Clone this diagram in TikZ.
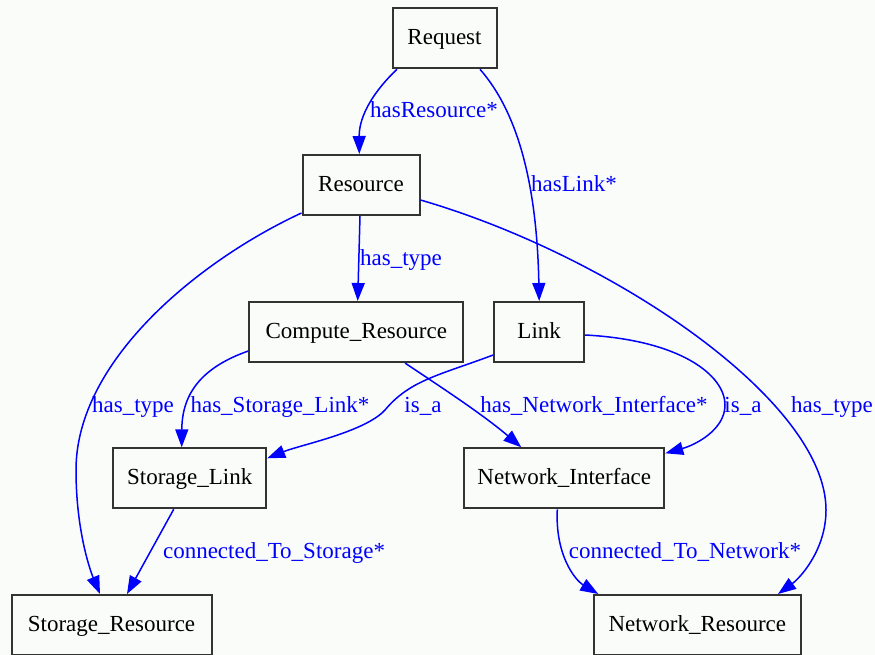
\documentclass[tikz,border=0pt]{standalone}
\usepackage{fontspec}
\setmainfont{Liberation Serif}
\usetikzlibrary{arrows.meta,calc}
\definecolor{bgc}{RGB}{250,252,250}
\definecolor{edgeblue}{RGB}{0,0,255}
\begin{document}
\begin{tikzpicture}[x=1pt,y=-1pt,
  box/.style={draw=black!80,line width=2pt,minimum height=60pt,inner sep=0pt,
    text height=18pt,text depth=5pt,font=\fontsize{23}{27}\selectfont},
  edge/.style={draw=edgeblue,line width=1.5pt,-{Triangle[length=18pt,width=13pt]}},
  lbl/.style={text=edgeblue,font=\fontsize{23}{27}\selectfont,inner sep=0pt,anchor=base}]
\fill[bgc] (0,0) rectangle (875,655);
\useasboundingbox (0,0) rectangle (875,655);

% nodes
\node[box,minimum width=104pt] (req)  at (444.5,38.3) {Request};
\node[box,minimum width=117pt] (res)  at (361,185)    {Resource};
\node[box,minimum width=214pt] (comp) at (356.3,332)  {Compute\_Resource};
\node[box,minimum width=90pt]  (link) at (539.2,332)  {Link};
\node[box,minimum width=153pt] (sl)   at (189.7,478.3){Storage\_Link};
\node[box,minimum width=200pt] (ni)   at (564.3,478.3){Network\_Interface};
\node[box,minimum width=200pt] (sr)   at (111.5,625)  {Storage\_Resource};
\node[box,minimum width=207pt] (nr)   at (697.3,625)  {Network\_Resource};

% edges
\draw[edge] ($(req.south)+(-47.5,0)$) .. controls (375,90) and (359,115) .. ($(res.north)+(-1.7,0)$);
\draw[edge] ($(req.south)+(35.5,0)$) .. controls (520,115) and (537,190) .. (link.north);
\draw[edge] ($(res.south)+(-1,0)$) -- ($(comp.north)+(1.4,0)$);
\draw[edge] ($(res.south west)+(0,-3)$) .. controls (200,260) and (76,360) .. (76,470)
  .. controls (76,530) and (90,570) .. ($(sr.north)+(-11.5,0)$);
\draw[edge] ($(res.east)+(0,15)$) .. controls (610,255) and (826,400) .. (826,510)
  .. controls (826,550) and (800,578) .. ($(nr.north)+(80.7,0)$);
\draw[edge] ($(comp.west)+(0,19)$) .. controls (200,368) and (182,395) .. ($(sl.north)+(-8,0)$);
\draw[edge] ($(comp.south)+(48.7,0)$) .. controls (430,380) and (480,412) .. ($(ni.north)+(-43,0)$);
\draw[edge] ($(link.west)+(0,23)$) .. controls (440,375) and (410,380) .. (385,410)
  .. controls (365,432) and (300,445) .. ($(sl.east)+(0,-20)$);
\draw[edge] ($(link.east)+(0,3)$) .. controls (680,340) and (725,375) .. (725,405)
  .. controls (725,430) and (695,445) .. ($(ni.north east)+(0,6)$);
\draw[edge] ($(sl.south)+(-16,0)$) -- ($(sr.north)+(15.5,0)$);
\draw[edge] ($(ni.south)+(-7,0)$) .. controls (555,555) and (575,580) .. ($(nr.north)+(-99,0)$);

% labels
\node[lbl] (l1)  at (434,118) {hasResource*};
\node[lbl] (l2)  at (574,192) {hasLink*};
\node[lbl] (l3)  at (401,265) {has\_type};
\node[lbl] (l4)  at (133,412) {has\_type};
\node[lbl] (l5)  at (280,412) {has\_Storage\_Link*};
\node[lbl] (l6)  at (423,412) {is\_a};
\node[lbl] (l7)  at (594,412) {has\_Network\_Interface*};
\node[lbl] (l8)  at (743,412) {is\_a};
\node[lbl] (l9)  at (832,412) {has\_type};
\node[lbl] (l10) at (274,558) {connected\_To\_Storage*};
\node[lbl] (l11) at (685,558) {connected\_To\_Network*};
\end{tikzpicture}
\end{document}
